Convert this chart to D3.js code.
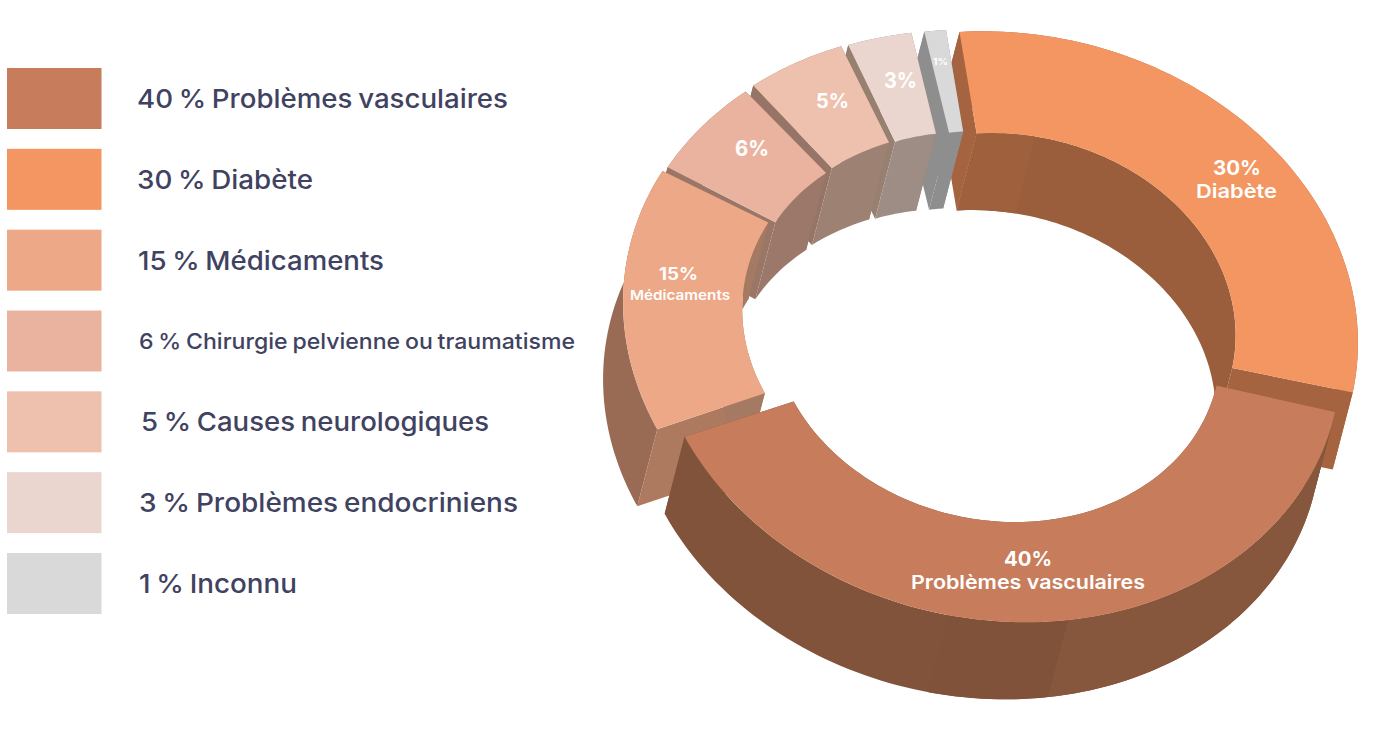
<!DOCTYPE html>
<html lang="fr">
<head>
<meta charset="utf-8">
<title>Causes de la dysfonction</title>
<script src="https://cdn.jsdelivr.net/npm/d3@7"></script>
<style>
  html, body { margin: 0; background: #fff; }
  svg { display: block; }
  text { font-family: Inter, "Open Sans", sans-serif; }
</style>
</head>
<body>
<svg id="chart" width="1400" height="747"></svg>
<script>
// Share of each cause, in percent, going clockwise from twelve o'clock.
const causes = ["Diabète", "Problèmes vasculaires", "Médicaments",
  "Chirurgie pelvienne ou traumatisme", "Causes neurologiques",
  "Problèmes endocriniens", "Inconnu"];
const shares = [30, 40, 15, 6, 5, 3, 1];

// Legend order, as indices into the arrays above.
const legendOrder = [1, 0, 2, 3, 4, 5, 6];

// Colours per slice: top face, inner wall, outer wall, radial faces.
const topColors    = ["#F39661", "#C77C5B", "#EDA888", "#EAB3A0", "#EEC1AF", "#EAD6CE", "#D9D9D9"];
const innerColors  = ["#9A5E3C", "#7F5139", "#A47A63", "#9C786A", "#9D8172", "#9D8D85", "#8E8E8E"];
const outerColors  = ["#A6633F", "#81533A", "#9A6B54", "#97756A", "#97756A", "#8F8F8F", "#8E8E8E"];
const faceColors   = ["#A6633F", "#82533A", "#AD7A5F", "#9A7666", "#967566", "#97806F", "#8E8E8E"];

// Explosion: where the centre of each slice lands on the page.
const sliceCentres = [[1008.5, 322], [996, 336], [973.5, 323], [975.5, 324], [978, 321.3], [982, 321], [995, 320]];

// Oblique projection of each slice's plane onto the page.
const basisU = [[346, -20], [342, -13], [347, -20], [347, -20], [347, -20], [347, -20], [347, -20]];
const basisV = [[49, 290], [45, 286], [49, 290], [49, 290], [49, 290], [49, 290], [49, 290]];
const innerRatios = [0.65, 0.65, 0.66, 0.65, 0.65, 0.65, 0.65];
const extrude = [-20, 77];

// Degrees shaved off both radial edges, which opens the small gaps between slices.
const edgeTrim = [0, 0, 0.5, 0.55, 0.55, 0, 0];

// Wall facets that catch the light differently: slice, wall, angle range in degrees.
const wallFacets = [
  { slice: 0, wall: "inner", from: 0, to: 14.8, color: "#9F603D" },
  { slice: 1, wall: "outer", from: 108, to: 175.5, color: "#86573D" },
  { slice: 1, wall: "outer", from: 175.5, to: 195.4, color: "#7F5239" }
];

const svg = d3.select("#chart");

const angles = d3.pie().sort(null).value(d => d)(shares);
const toRad = d3.scaleLinear().domain([0, 360]).range([0, 2 * Math.PI]);

function project(i, radius, angle) {
  const u = radius * Math.sin(angle), v = -radius * Math.cos(angle);
  const c = sliceCentres[i], bu = basisU[i], bv = basisV[i];
  return [c[0] + bu[0] * u + bv[0] * v, c[1] + bu[1] * u + bv[1] * v];
}

function arcPoints(i, radius, a0, a1) {
  const steps = Math.max(8, Math.ceil((a1 - a0) * 40));
  return d3.range(steps + 1).map(k => project(i, radius, a0 + (a1 - a0) * k / steps));
}

const lower = p => [p[0] + extrude[0], p[1] + extrude[1]];
const polygon = d3.line().curve(d3.curveLinear);
const closed = pts => polygon(pts) + "Z";

// Wall standing under a run of points on the top face.
const wall = pts => closed(pts.concat(pts.slice().reverse().map(lower)));

// Nearest slices are painted last so they overlap the ones behind.
const paintOrder = [0, 6, 5, 4, 3, 2, 1];

const ring = svg.append("g").attr("class", "ring");
paintOrder.forEach(i => {
  const a0 = angles[i].startAngle + toRad(edgeTrim[i]);
  const a1 = angles[i].endAngle - toRad(edgeTrim[i]);
  const outer = arcPoints(i, 1, a0, a1);
  const inner = arcPoints(i, innerRatios[i], a0, a1);
  const g = ring.append("g").attr("class", "slice");
  g.append("path").attr("d", wall([outer[outer.length - 1], inner[inner.length - 1]])).attr("fill", faceColors[i]);
  g.append("path").attr("d", wall(outer)).attr("fill", outerColors[i]);
  g.append("path").attr("d", wall([outer[0], inner[0]])).attr("fill", faceColors[i]);
  g.append("path").attr("d", wall(inner)).attr("fill", innerColors[i]);
  wallFacets.filter(f => f.slice === i).forEach(f => {
    const radius = f.wall === "inner" ? innerRatios[i] : 1;
    g.append("path").attr("d", wall(arcPoints(i, radius, toRad(f.from), toRad(f.to)))).attr("fill", f.color);
  });
  g.append("path").attr("d", closed(outer.concat(inner.slice().reverse()))).attr("fill", topColors[i]);
});

// Labels printed on the slices.
const sliceLabels = [
  { i: 0, x: 1237, y: 175, size: 20, width: 48, sub: { x: 1236.5, y: 198, size: 19, width: 81 } },
  { i: 1, x: 1028, y: 566, size: 20, width: 48, sub: { x: 1028, y: 589, size: 19, width: 234 } },
  { i: 2, x: 678.5, y: 280, size: 17, width: 39, sub: { x: 680, y: 300, size: 13.5, width: 100 } },
  { i: 3, x: 752, y: 156, size: 21, width: 34 },
  { i: 4, x: 832.5, y: 108, size: 20, width: 33 },
  { i: 5, x: 900.5, y: 88, size: 21, width: 33 },
  { i: 6, x: 940.5, y: 65, size: 9, width: 15 }
];
const onSlice = svg.append("g").attr("class", "slice-labels")
  .attr("fill", "#fff").attr("text-anchor", "middle").attr("font-weight", 700);
const fitted = (sel, width) => sel.attr("textLength", width).attr("lengthAdjust", "spacingAndGlyphs");
sliceLabels.forEach(l => {
  onSlice.append("text").attr("x", l.x).attr("y", l.y).attr("font-size", l.size)
    .call(fitted, l.width).text(shares[l.i] + "%");
  if (l.sub) {
    onSlice.append("text").attr("x", l.sub.x).attr("y", l.sub.y).attr("font-size", l.sub.size)
      .attr("font-weight", 600).call(fitted, l.sub.width).text(causes[l.i]);
  }
});

// Legend on the left.
const legendY = d3.scalePoint().domain(d3.range(legendOrder.length)).range([68, 553]);
const legendTextX = [137, 137, 138, 139, 141, 139, 139];
const legendTextWidth = [371, 176, 246, 436, 348, 379, 158];
const legendTextSize = [26, 26, 26, 22, 26, 26, 26];
const legend = svg.append("g").attr("class", "legend");
legendOrder.forEach((c, row) => {
  const y = legendY(row);
  legend.append("rect").attr("x", 7).attr("y", y).attr("width", 94.5).attr("height", 61).attr("fill", topColors[c]);
  legend.append("text")
    .attr("x", legendTextX[row]).attr("y", y + 30.5).attr("dy", "0.36em")
    .attr("font-size", legendTextSize[row]).attr("font-weight", 500).attr("fill", "#3F4260")
    .attr("word-spacing", "-0.06em")
    .call(fitted, legendTextWidth[row])
    .text(`${shares[c]} % ${causes[c]}`);
});
</script>
</body>
</html>
